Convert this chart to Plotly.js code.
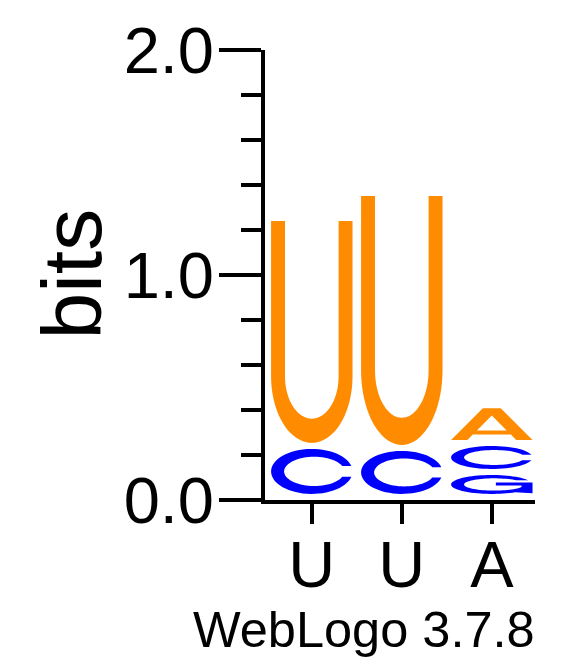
<!DOCTYPE html>
<html>
<head>
<meta charset="utf-8">
<script src="https://cdn.plot.ly/plotly-3.0.1.min.js"></script>
<style>html,body{margin:0;padding:0;background:#fff;}#chart{width:583px;height:667px;}</style>
</head>
<body>
<div id="chart"></div>
<script>
// ---- data (bits per letter) ----
const positions = [1, 2, 3];
const consensus = ['U', 'U', 'A'];
const bitsA = [0.000, 0.000, 0.168];
const bitsC = [0.227, 0.218, 0.129];
const bitsG = [0.000, 0.000, 0.111];
const bitsU = [1.013, 1.133, 0.000];
const yTicks = [0, 1, 2];

// ---- styles ----
const colors = {A: '#FF8C00', U: '#FF8C00', C: '#0000FF', G: '#0000FF'};
const FONT = 'Liberation Sans, Arial, Helvetica, sans-serif';
const letterWidth = 0.905;   // fraction of a column
const letterGap = 0.027;     // bits of white space under each glyph

// ---- glyph outlines in a unit box (u right, v up) ----
function arc(cx, cy, rx, ry, a0, a1, n) {
  const pts = [];
  for (let i = 0; i <= n; i++) {
    const a = (a0 + (a1 - a0) * i / n) * Math.PI / 180;
    pts.push([cx + rx * Math.cos(a), cy + ry * Math.sin(a)]);
  }
  return pts;
}
const deg = r => r * 180 / Math.PI;
const glyphs = {
  U: (() => {
    const sw = 0.171, cy = 0.30, t = 0.109;
    return [[[0, 1]].concat(arc(0.5, cy, 0.5, cy, 180, 360, 40))
      .concat([[1, 1], [1 - sw, 1]])
      .concat(arc(0.5, cy, 0.5 - sw, cy - t, 360, 180, 40))
      .concat([[sw, 1]])];
  })(),
  C: (() => {
    const icx = 0.53, irx = 0.37, iry = 0.325, vt = 0.62, vb = 0.38;
    const ot = deg(Math.asin((vt - 0.5) / 0.5)), ob = 360 + deg(Math.asin((vb - 0.5) / 0.5));
    const it = deg(Math.asin((vt - 0.5) / iry)), ib = 360 + deg(Math.asin((vb - 0.5) / iry));
    return [arc(0.5, 0.5, 0.5, 0.5, ot, ob, 60).concat(arc(icx, 0.5, irx, iry, ib, it, 60))];
  })(),
  G: (() => {
    const icx = 0.53, irx = 0.37, iry = 0.325, vt = 0.72, stemL = 0.865;
    const ot = deg(Math.asin((vt - 0.5) / 0.5));
    const it = deg(Math.asin((vt - 0.5) / iry));
    const is = 360 - deg(Math.acos((stemL - icx) / irx));
    return [arc(0.5, 0.5, 0.5, 0.5, ot, 305, 60)
      .concat([[1, 0.03], [1, 0.6], [0.55, 0.6], [0.55, 0.45], [stemL, 0.45]])
      .concat(arc(icx, 0.5, irx, iry, is, it, 60))];
  })(),
  A: (() => {
    const s = 0.39, lw = 0.2, b0 = 0.17, b1 = 0.30;
    const apexV = (1 - 2 * lw) / (2 * s);
    return [
      [[0, 0], [s, 1], [1 - s, 1], [1, 0], [1 - lw, 0], [1 - lw - s * b0, b0], [lw + s * b0, b0], [lw, 0]],
      [[lw + s * b1, b1], [0.5, apexV], [1 - lw - s * b1, b1]]
    ];
  })()
};

function glyphPath(letter, xc, y0, y1) {
  const x0 = xc - letterWidth / 2;
  return glyphs[letter].map(c =>
    'M' + c.map(p => (x0 + p[0] * letterWidth).toFixed(5) + ',' + (y0 + p[1] * (y1 - y0)).toFixed(5)).join('L') + 'Z'
  ).join(' ');
}

// ---- stack letters (smallest at the bottom) ----
const bitsBy = {A: bitsA, C: bitsC, G: bitsG, U: bitsU};
const shapes = [];
const totals = [];
positions.forEach((pos, i) => {
  const col = Object.keys(bitsBy).map(l => ({l, h: bitsBy[l][i]})).filter(d => d.h > 0)
    .sort((a, b) => a.h - b.h);
  let base = 0;
  col.forEach(d => {
    shapes.push({
      type: 'path', xref: 'x', yref: 'y', layer: 'above',
      path: glyphPath(d.l, pos, base + letterGap, base + d.h),
      fillcolor: colors[d.l], fillrule: 'evenodd',
      line: {width: 0, color: colors[d.l]}
    });
    base += d.h;
  });
  totals.push(base);
});

const trace = {
  x: positions, y: totals, type: 'scatter', mode: 'markers',
  marker: {opacity: 0}, hoverinfo: 'skip', showlegend: false
};

const layout = {
  width: 583, height: 667,
  margin: {l: 265, r: 48, t: 50, b: 167},
  paper_bgcolor: '#fff', plot_bgcolor: '#fff',
  font: {family: FONT, color: '#000'},
  showlegend: false,
  xaxis: {
    range: [0.48, 3.48], tickmode: 'array', tickvals: positions, ticktext: consensus,
    ticks: 'outside', ticklen: 20, tickwidth: 4, tickcolor: '#000',
    showline: true, linewidth: 4, linecolor: '#000',
    showgrid: false, zeroline: false, fixedrange: true, ticklabelstandoff: -15,
    tickfont: {family: FONT, size: 65, color: '#000'}
  },
  yaxis: {
    range: [0, 2], tickmode: 'array', tickvals: yTicks, tickformat: '.1f',
    ticks: 'outside', ticklen: 42, tickwidth: 4, tickcolor: '#000',
    minor: {dtick: 0.2, tick0: 0, ticks: 'outside', ticklen: 20, tickwidth: 4, tickcolor: '#000', showgrid: false},
    showline: true, linewidth: 4, linecolor: '#000',
    showgrid: false, zeroline: false, fixedrange: true, ticklabelstandoff: -8,
    tickfont: {family: FONT, size: 65, color: '#000'}
  },
  shapes: shapes,
  annotations: [{
    text: 'bits', xref: 'paper', yref: 'paper', textangle: -90,
    x: -0.7148, y: 0.501, xanchor: 'center', yanchor: 'middle', showarrow: false,
    font: {family: FONT, size: 84, color: '#000'}
  }, {
    text: 'WebLogo 3.7.8', xref: 'paper', yref: 'paper',
    x: 1.0074, y: -0.3556, xanchor: 'right', yanchor: 'bottom', showarrow: false,
    font: {family: FONT, size: 50.5, color: '#000'}
  }]
};

Plotly.newPlot('chart', [trace], layout, {displayModeBar: false, staticPlot: true});
</script>
</body>
</html>
